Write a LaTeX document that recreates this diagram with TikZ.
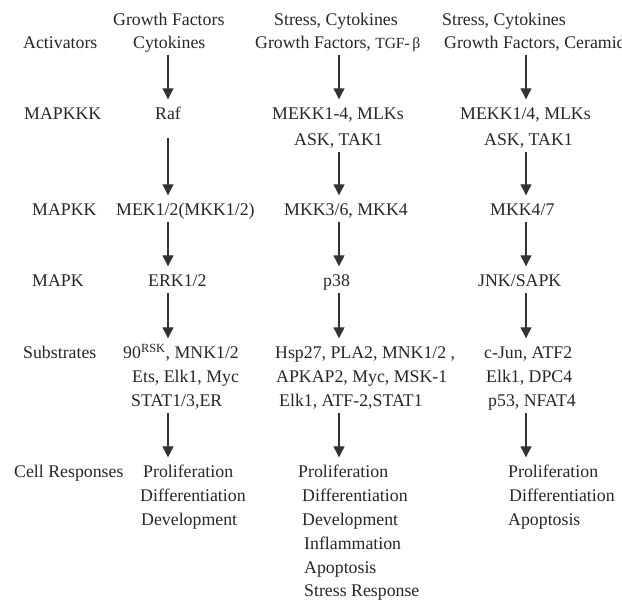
\documentclass[tikz,border=0pt]{standalone}
\usepackage{fontspec}
\setmainfont{Liberation Serif}
\usetikzlibrary{arrows.meta}

\begin{document}
\begin{tikzpicture}
      [x=1pt,y=-1pt,
       every node/.style={anchor=base west,inner sep=0pt,text height=12.5pt,text depth=4pt,
                          text=black!85,font=\fontsize{17.8}{24}\selectfont},
       arr/.style={-{Triangle[width=11pt,length=11pt]},line width=1.2pt,draw=black!80,
                   shorten <=2pt,shorten >=8pt}]
      \useasboundingbox (0,0) rectangle (622,601);

      % columns of the arrows
      \coordinate (c1) at (168,0);
      \coordinate (c2) at (339,0);
      \coordinate (c3) at (526,0);

      % row labels
      \node (act)  at (23,49)  {Activators};
      \node (kkk)  at (24,120) {MAPKKK};
      \node (kk)   at (32,216) {MAPKK};
      \node (k)    at (32,287) {MAPK};
      \node (sub)  at (23,359) {Substrates};
      \node (resp) at (14,478) {Cell Responses};

      % ERK pathway
      \node (act1a) at (113,26)  {Growth Factors};
      \node (act1b) at (133,49)  {Cytokines};
      \node (raf)   at (155,120) {Raf};
      \node (mek)   at (116,216) {MEK1/2(MKK1/2)};
      \node (erk)   at (148,287) {ERK1/2};
      \node (sub1a) at (123,359) {90\textsuperscript{RSK}, MNK1/2};
      \node (sub1b) at (132,383) {Ets, Elk1, Myc};
      \node (sub1c) at (131,407) {STAT1/3,ER};
      \node (resp1a) at (143,478) {Proliferation};
      \node (resp1b) at (140,502) {Differentiation};
      \node (resp1c) at (141,526) {Development};

      % p38 pathway
      \node (act2a) at (274,26)  {Stress, Cytokines};
      \node (act2b) at (255,49)  {Growth Factors, {\fontsize{15.5}{18}\selectfont TGF-\,β}};
      \node (kkk2a) at (272,120) {MEKK1-4, MLKs};
      \node (kkk2b) at (294,146) {ASK, TAK1};
      \node (mkk36) at (284,216) {MKK3/6, MKK4};
      \node (p38)   at (323,287) {p38};
      \node (sub2a) at (275,359) {Hsp27, PLA2, MNK1/2 ,};
      \node (sub2b) at (276,383) {APKAP2, Myc, MSK-1};
      \node (sub2c) at (279,407) {Elk1, ATF-2,STAT1};
      \node (resp2a) at (298,478) {Proliferation};
      \node (resp2b) at (302,502) {Differentiation};
      \node (resp2c) at (302,526) {Development};
      \node (resp2d) at (304,550) {Inflammation};
      \node (resp2e) at (304,574) {Apoptosis};
      \node (resp2f) at (304,597) {Stress Response};

      % JNK pathway
      \node (act3a) at (442,26)  {Stress, Cytokines};
      \node (act3b) at (444,49)  {Growth Factors, Ceramide};
      \node (kkk3a) at (460,120) {MEKK1/4, MLKs};
      \node (kkk3b) at (484,146) {ASK, TAK1};
      \node (mkk47) at (490,216) {MKK4/7};
      \node (jnk)   at (478,287) {JNK/SAPK};
      \node (sub3a) at (484,359) {c-Jun, ATF2};
      \node (sub3b) at (486,383) {Elk1, DPC4};
      \node (sub3c) at (488,407) {p53, NFAT4};
      \node (resp3a) at (508,478) {Proliferation};
      \node (resp3b) at (509,502) {Differentiation};
      \node (resp3c) at (508,526) {Apoptosis};

      \foreach \from/\to/\col in {act1b/raf/c1,mek/erk/c1,erk/sub1a/c1,sub1c/resp1a/c1,
                                  act2b/kkk2a/c2,kkk2b/mkk36/c2,mkk36/p38/c2,p38/sub2a/c2,sub2c/resp2a/c2,
                                  act3b/kkk3a/c3,kkk3b/mkk47/c3,mkk47/jnk/c3,jnk/sub3a/c3,sub3c/resp3a/c3}
      \draw[arr] (\from.south -| \col) -- (\to.north -| \col);
      \draw[arr,shorten <=14pt] (raf.south -| c1) -- (mek.north -| c1);
\end{tikzpicture}
\end{document}
